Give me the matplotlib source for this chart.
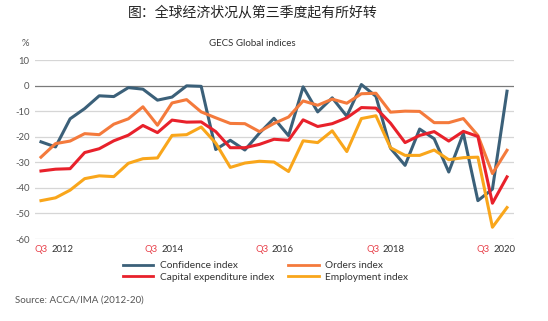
import numpy as np
import matplotlib
matplotlib.use('Agg')
from matplotlib import pyplot as plt

# quarterly readings, Q3 2012 .. Q3 2020
confidence = [-22, -24, -13, -9, -4, -4.3, -0.8, -1.4, -5.7, -4.5, -0.1, -0.3,
              -25, -21.4, -25.2, -18.6, -12.8, -19.6, -0.5, -10.3, -4.8, -12, 0.4, -4.2,
              -24.5, -31.2, -17, -20.8, -33.8, -18.7, -45, -40.5, -2.2]
orders = [-28, -22.7, -21.7, -18.8, -19.2, -15.1, -13, -8.3, -15.5, -6.8, -5.5, -10.3,
          -12.6, -14.8, -14.9, -18, -14.8, -12.3, -6, -7.7, -5.3, -6.9, -3.2, -3,
          -10.4, -10, -10.1, -14.5, -14.5, -12.9, -19.5, -34.4, -25.3]
capex = [-33.4, -32.7, -32.5, -26.2, -24.7, -21.6, -19.4, -15.6, -18.4, -13.5, -14.3, -14.2,
         -18, -24.3, -24.3, -23, -21, -21.4, -13.4, -16, -14.9, -12.6, -8.6, -8.8,
         -14.7, -22.3, -19.5, -18, -21.7, -17.9, -19.9, -46, -35.7]
employment = [-45, -43.9, -40.9, -36.4, -35.3, -35.6, -30.4, -28.6, -28.3, -19.5, -19.2, -16.2,
              -22.5, -32, -30.3, -29.6, -29.9, -33.6, -21.6, -22.3, -17.7, -25.8, -12.9, -11.8,
              -24.3, -27.3, -27.3, -25.2, -29, -28.2, -28, -55.4, -47.7]

years = ['2012', '2014', '2016', '2018', '2020']
label_pos = [0.9, 8.45, 16.05, 23.65, 31.25]

blue = '#3b6079'
orange = '#f47a3c'
red = '#e8212b'
yellow = '#f9a61b'
grey_txt = '#555555'

plt.rcParams['font.family'] = ['Lato', 'DejaVu Sans']

fig = plt.figure(figsize=(5.48, 3.21), dpi=100)
ax = fig.add_axes([35/548, 82/321, 479/548, 179/321])

x = np.arange(len(confidence))
l1, = ax.plot(x, confidence, color=blue, lw=2.2, label='Confidence index', zorder=3)
l2, = ax.plot(x, orders, color=orange, lw=2.2, label='Orders index', zorder=3)
l3, = ax.plot(x, capex, color=red, lw=2.2, label='Capital expenditure index', zorder=4)
l4, = ax.plot(x, employment, color=yellow, lw=2.2, label='Employment index', zorder=3)

ax.set_xlim(-0.41, 32.48)
ax.set_ylim(-60, 10)
ax.set_yticks(range(-60, 11, 10))
ax.set_yticklabels([str(v) for v in range(-60, 11, 10)], fontsize=6.8, color=grey_txt)
ax.tick_params(axis='y', length=0, pad=4)
ax.set_xticks([])
for s in ax.spines.values():
    s.set_visible(False)
for v in range(-60, 11, 10):
    ax.axhline(v, color='#d6d6d6' if v != 0 else '#7a7a7a', lw=0.9, zorder=1)

# x labels: red "Q3" + grey year
for p, yr in zip(label_pos, years):
    ax.annotate('Q3', xy=(p, 0), xycoords=('data', 'axes fraction'),
                xytext=(-6, -11), textcoords='offset pixels',
                ha='right', va='center', fontsize=6.8, color='#e8404a')
    ax.annotate(yr, xy=(p, 0), xycoords=('data', 'axes fraction'),
                xytext=(-3, -11), textcoords='offset pixels',
                ha='left', va='center', fontsize=6.8, color='#333333')

fig.text(253/548, 1 - 13/321, '图：全球经济状况从第三季度起有所好转',
         ha='center', va='center', fontsize=10, color='#222222',
         family=['Noto Sans CJK SC', 'DejaVu Sans'])
fig.text(252/548, 1 - 43/321, 'GECS Global indices', ha='center', va='center',
         fontsize=7, color='#333333')
fig.text(25/548, 1 - 43/321, '%', ha='center', va='center', fontsize=6.8, color=grey_txt)

leg = fig.legend(handles=[l1, l3, l2, l4], ncol=2, loc='upper left',
                 bbox_to_anchor=(123/548, 1 - 261/321), frameon=False, fontsize=7.3,
                 handlelength=3.0, handletextpad=0.6, columnspacing=1.45,
                 labelspacing=0.25, borderpad=0, borderaxespad=0, labelcolor='#333333')
for h in leg.legend_handles:
    h.set_linewidth(2.0)

fig.text(15/548, 1 - 300/321, 'Source: ACCA/IMA (2012-20)', ha='left', va='center',
         fontsize=7, color=grey_txt)

fig.savefig('out.png', dpi=100)
